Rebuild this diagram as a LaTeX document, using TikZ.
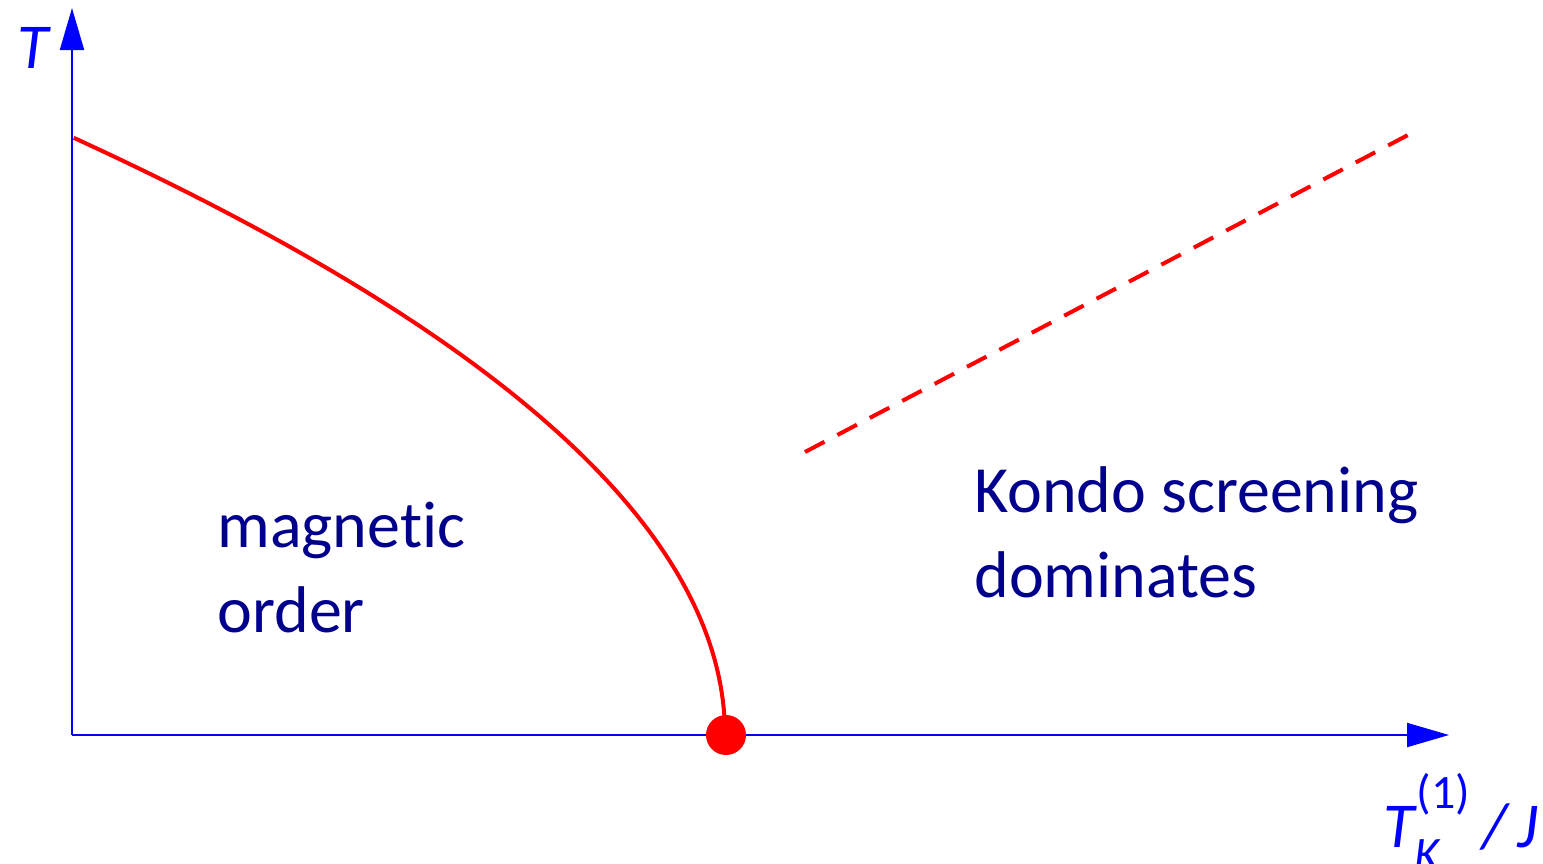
\documentclass[tikz,border=0pt]{standalone}
\usepackage{fontspec}
\setmainfont[Ligatures=CommonOff]{Carlito}
\usetikzlibrary{arrows.meta}
\definecolor{axisblue}{RGB}{0,0,255}
\definecolor{textnavy}{RGB}{0,0,140}
\definecolor{curvered}{RGB}{255,0,0}
\tikzset{
  axis/.style={draw=axisblue, line width=1pt, -{Triangle[length=21pt,width=12pt]}},
  phase/.style={draw=curvered, line width=2pt},
  crossover/.style={draw=curvered, line width=2pt, dash pattern=on 11pt off 7.3pt},
  region/.style={text=textnavy, font=\fontsize{33}{42}\selectfont, inner sep=0pt, anchor=base west},
  axlabel/.style={text=axisblue, font=\fontsize{32}{37}\selectfont\itshape, inner sep=0pt, anchor=base west},
}
\begin{document}
\begin{tikzpicture}[x=0.5pt,y=-0.5pt]
\useasboundingbox (0,0) rectangle (1543,863);
\coordinate (O) at (72,735);
\coordinate (Ytip) at (72,8);
\coordinate (Xtip) at (1449,735);
\coordinate (Tc) at (72,137);
\coordinate (QCP) at (726,735);
\coordinate (Ds) at (805,452);
\coordinate (De) at (1408,135);
\draw[axis] (O) -- (Ytip);
\draw[axis] (O) -- (Xtip);
\draw[phase] plot[domain=0:1,samples=120,smooth] ({72+653*(1-\x*\x)},{735-598*\x});
\draw[crossover] (Ds) -- (De);
\fill[curvered] (QCP) circle (20);
\node[region] (mag1) at (217,547) {magnetic};
\node[region] (mag2) at (217,632) {order};
\node[region] (kon1) at (974,512) {Kondo screening};
\node[region] (kon2) at (974,597) {dominates};
\node[axlabel] (ylab) at (17,68) {T};
\node[axlabel] (xlab) at (1383,847) {T\rlap{\raisebox{-0.36em}{\fontsize{24}{26}\selectfont K}}\hspace{0.03em}\raisebox{0.6em}{\fontsize{24}{26}\selectfont\upshape (1)}\hspace{0.2em}/\hspace{0.15em}J};
\end{tikzpicture}
\end{document}
